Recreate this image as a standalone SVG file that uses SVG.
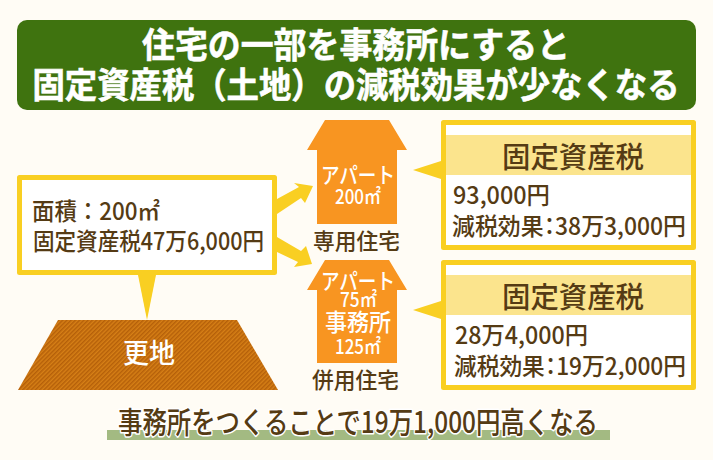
<svg xmlns="http://www.w3.org/2000/svg" width="713" height="460" viewBox="0 0 713 460">
<style>
text{font-family:"Noto Sans CJK JP","Noto Sans",sans-serif;fill:#553b14;font-weight:500}
.w{fill:#fff}
.h{fill:#fff;font-weight:700;font-size:35px;stroke:#fff;stroke-width:.6px}
.box{fill:#fff;stroke:#f9cf22;stroke-width:5;stroke-linejoin:round}
.y{fill:#f9cf22}
.band{fill:#fbe48d}
.o{fill:#f89521}
.t{font-size:29px}
.b{font-size:24px}
.p{font-feature-settings:"palt"}
.s{font-size:22px}
.hl{font-size:22px}
.m{font-size:20px}
</style>
<defs>
<pattern id="hatch" width="3" height="3" patternUnits="userSpaceOnUse" patternTransform="rotate(-45)">
<rect width="3" height="3" fill="#d67f16"/>
<rect width="3" height="1.500" fill="#b5600a"/>
</pattern>
</defs>
<rect width="713" height="460" fill="#fffcf5"/>
<g id="title">
<rect x="17" y="20" width="679" height="90" rx="10" fill="#3f730f"/>
<text class="h" x="356" y="58" text-anchor="middle" textLength="428" lengthAdjust="spacingAndGlyphs">住宅の一部を事務所にすると</text>
<text class="h" x="356" y="98" text-anchor="middle" textLength="647" lengthAdjust="spacingAndGlyphs">固定資産税（土地）の減税効果が少なくなる</text>
</g>
<g id="connectors">
<polygon class="y" points="277,199 299,187 294,183 313,186 305,203 301,198 277,214"/>
<polygon class="y" points="277,237 301,251 306,246 312,264 294,267 298,262 277,252"/>
<polygon class="y" points="138,275 156,275 147,320"/>
<polygon class="y" points="413,170 441,161 441,179"/>
<polygon class="y" points="413,310 441,301 441,319"/>
</g>
<g id="land-info">
<rect class="box" x="19.500" y="177.500" width="255" height="95"/>
<text class="b" x="32" y="220" textLength="128" lengthAdjust="spacingAndGlyphs">面積：200㎡</text>
<text class="b" x="33" y="250" textLength="231" lengthAdjust="spacingAndGlyphs">固定資産税47万6,000円</text>
</g>
<g id="land">
<polygon points="58,320 237,320 278,390 18,390" fill="url(#hatch)"/>
<text class="w" x="149" y="363" font-size="27" text-anchor="middle" textLength="52" lengthAdjust="spacingAndGlyphs">更地</text>
</g>
<g id="house-1">
<polygon class="o" points="325,120 389,120 407,150 397,150 397,224 317,224 317,150 307,150"/>
<text class="w hl" x="321" y="183" textLength="74" lengthAdjust="spacingAndGlyphs">アパート</text>
<text class="w m" x="335" y="204" textLength="46" lengthAdjust="spacingAndGlyphs">200㎡</text>
<text class="s" x="313" y="249" textLength="87" lengthAdjust="spacingAndGlyphs">専用住宅</text>
</g>
<g id="house-2">
<polygon class="o" points="325,260 389,260 407,290 397,290 397,363 317,363 317,290 307,290"/>
<text class="w hl" x="321" y="289" textLength="74" lengthAdjust="spacingAndGlyphs">アパート</text>
<text class="w m" x="340" y="307" textLength="37" lengthAdjust="spacingAndGlyphs">75㎡</text>
<text class="w" font-size="24" x="325" y="331" textLength="66" lengthAdjust="spacingAndGlyphs">事務所</text>
<text class="w m" x="335" y="354" textLength="46" lengthAdjust="spacingAndGlyphs">125㎡</text>
<text class="s" x="312" y="388" textLength="87" lengthAdjust="spacingAndGlyphs">併用住宅</text>
</g>
<g id="tax-1">
<rect class="box" x="443.500" y="122.500" width="250" height="125"/>
<rect class="band" x="446" y="135" width="245" height="40"/>
<text class="t" x="502" y="168" textLength="142" lengthAdjust="spacingAndGlyphs">固定資産税</text>
<text class="b" x="453" y="204" textLength="97" lengthAdjust="spacingAndGlyphs">93,000円</text>
<text class="b p" x="452" y="235" textLength="234" lengthAdjust="spacingAndGlyphs">減税効果：38万3,000円</text>
</g>
<g id="tax-2">
<rect class="box" x="443.500" y="262.500" width="250" height="125"/>
<rect class="band" x="446" y="275" width="245" height="40"/>
<text class="t" x="502" y="308" textLength="142" lengthAdjust="spacingAndGlyphs">固定資産税</text>
<text class="b" x="455" y="344" textLength="133" lengthAdjust="spacingAndGlyphs">28万4,000円</text>
<text class="b p" x="454" y="375" textLength="232" lengthAdjust="spacingAndGlyphs">減税効果：19万2,000円</text>
</g>
<g id="summary">
<rect x="107" y="430" width="503" height="10" fill="#a3ba82"/>
<text x="118" y="433" font-size="30" stroke="#fff" stroke-width="3" paint-order="stroke" stroke-linejoin="round" textLength="480" lengthAdjust="spacingAndGlyphs">事務所をつくることで19万1,000円高くなる</text>
</g>
</svg>
